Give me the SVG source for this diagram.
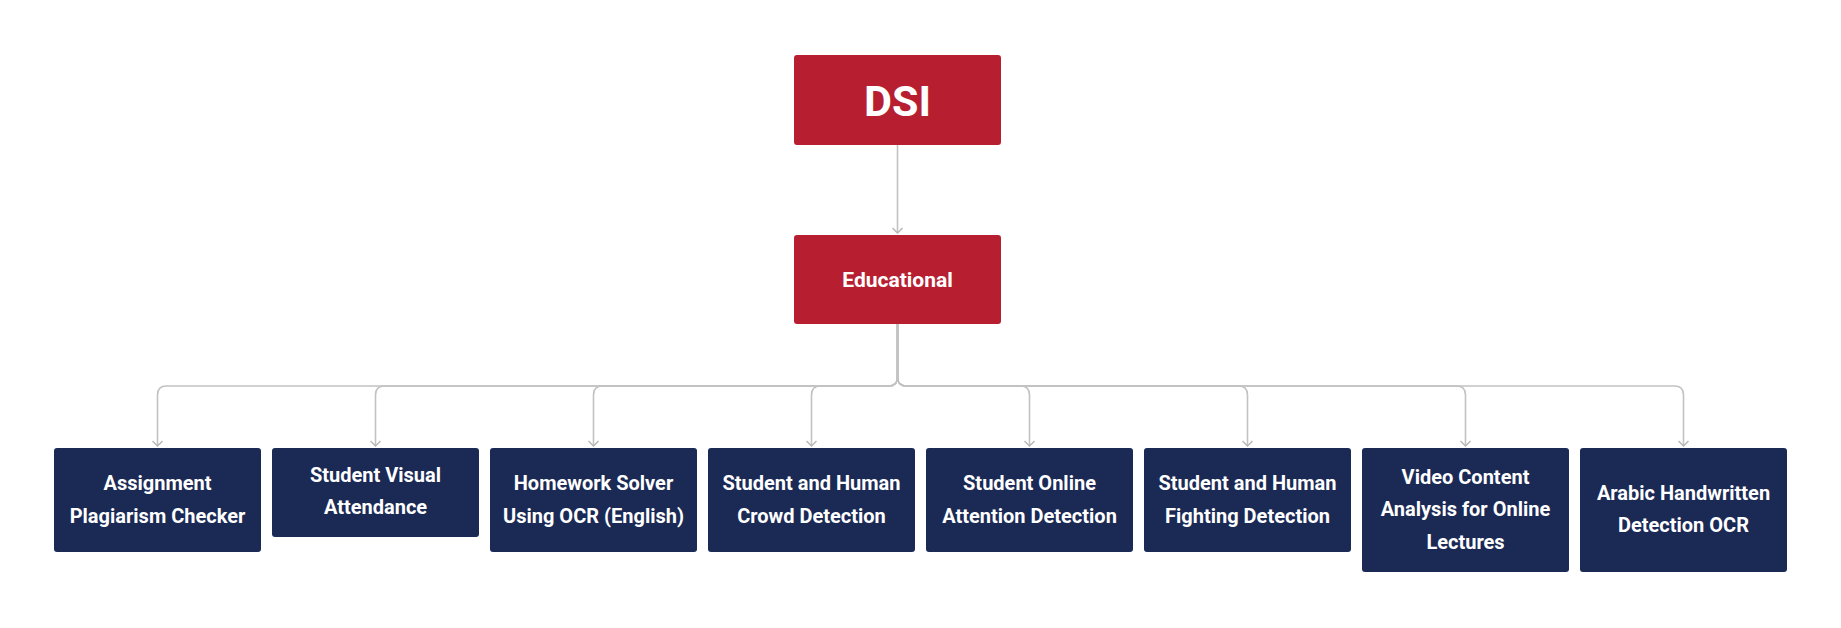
<svg xmlns="http://www.w3.org/2000/svg" width="1841" height="628" viewBox="0 0 1841 628">
<style>
.red{fill:#B71F31}
.navy{fill:#1B2955}
.t{font-family:Roboto,"Liberation Sans",sans-serif;font-weight:700;fill:#fff;text-anchor:middle}
.s{font-size:20px}
.c{fill:none;stroke:#C2C2C2;stroke-width:1.6}
</style>
<defs>
<marker id="ah" markerWidth="10" markerHeight="12" refX="9" refY="6" orient="auto" markerUnits="userSpaceOnUse" viewBox="0 0 10 12">
<polyline points="4,1 9,6 4,11" fill="none" stroke="#B8B8B8" stroke-width="1.5"/>
</marker>
</defs>
<rect width="1841" height="628" fill="#fff"/>
<g id="connectors">
<path class="c" d="M897.5 145 V233" marker-end="url(#ah)"/>
<path class="c" d="M897.5 324 V377 Q897.5 386 888.5 386 H166.5 Q157.5 386 157.5 395 V446" marker-end="url(#ah)"/>
<path class="c" d="M897.5 324 V377 Q897.5 386 888.5 386 H384.5 Q375.5 386 375.5 395 V446" marker-end="url(#ah)"/>
<path class="c" d="M897.5 324 V377 Q897.5 386 888.5 386 H602.5 Q593.5 386 593.5 395 V446" marker-end="url(#ah)"/>
<path class="c" d="M897.5 324 V377 Q897.5 386 888.5 386 H820.5 Q811.5 386 811.5 395 V446" marker-end="url(#ah)"/>
<path class="c" d="M897.5 324 V377 Q897.5 386 906.5 386 H1020.5 Q1029.5 386 1029.5 395 V446" marker-end="url(#ah)"/>
<path class="c" d="M897.5 324 V377 Q897.5 386 906.5 386 H1238.5 Q1247.5 386 1247.5 395 V446" marker-end="url(#ah)"/>
<path class="c" d="M897.5 324 V377 Q897.5 386 906.5 386 H1456.5 Q1465.5 386 1465.5 395 V446" marker-end="url(#ah)"/>
<path class="c" d="M897.5 324 V377 Q897.5 386 906.5 386 H1674.5 Q1683.5 386 1683.5 395 V446" marker-end="url(#ah)"/>
</g>
<g id="dsi">
<rect class="red" x="794" y="55" width="207" height="90" rx="3"/>
<text class="t" x="897.5" y="116" font-size="43">DSI</text>
</g>
<g id="educational">
<rect class="red" x="794" y="235" width="207" height="89" rx="3"/>
<text class="t" x="897.5" y="286.5" font-size="21">Educational</text>
</g>
<g id="n1">
<rect class="navy" x="54" y="448" width="207" height="104" rx="3"/>
<text class="t s" x="157.5" y="490">Assignment</text>
<text class="t s" x="157.5" y="522.5">Plagiarism Checker</text>
</g>
<g id="n2">
<rect class="navy" x="272" y="448" width="207" height="89" rx="3"/>
<text class="t s" x="375.5" y="481.5">Student Visual</text>
<text class="t s" x="375.5" y="514">Attendance</text>
</g>
<g id="n3">
<rect class="navy" x="490" y="448" width="207" height="104" rx="3"/>
<text class="t s" x="593.5" y="490">Homework Solver</text>
<text class="t s" x="593.5" y="522.5">Using OCR (English)</text>
</g>
<g id="n4">
<rect class="navy" x="708" y="448" width="207" height="104" rx="3"/>
<text class="t s" x="811.5" y="490">Student and Human</text>
<text class="t s" x="811.5" y="522.5">Crowd Detection</text>
</g>
<g id="n5">
<rect class="navy" x="926" y="448" width="207" height="104" rx="3"/>
<text class="t s" x="1029.5" y="490">Student Online</text>
<text class="t s" x="1029.5" y="522.5">Attention Detection</text>
</g>
<g id="n6">
<rect class="navy" x="1144" y="448" width="207" height="104" rx="3"/>
<text class="t s" x="1247.5" y="490">Student and Human</text>
<text class="t s" x="1247.5" y="522.5">Fighting Detection</text>
</g>
<g id="n7">
<rect class="navy" x="1362" y="448" width="207" height="124" rx="3"/>
<text class="t s" x="1465.5" y="483.5">Video Content</text>
<text class="t s" x="1465.5" y="516">Analysis for Online</text>
<text class="t s" x="1465.5" y="548.5">Lectures</text>
</g>
<g id="n8">
<rect class="navy" x="1580" y="448" width="207" height="124" rx="3"/>
<text class="t s" x="1683.5" y="499.5">Arabic Handwritten</text>
<text class="t s" x="1683.5" y="532">Detection OCR</text>
</g>
</svg>
